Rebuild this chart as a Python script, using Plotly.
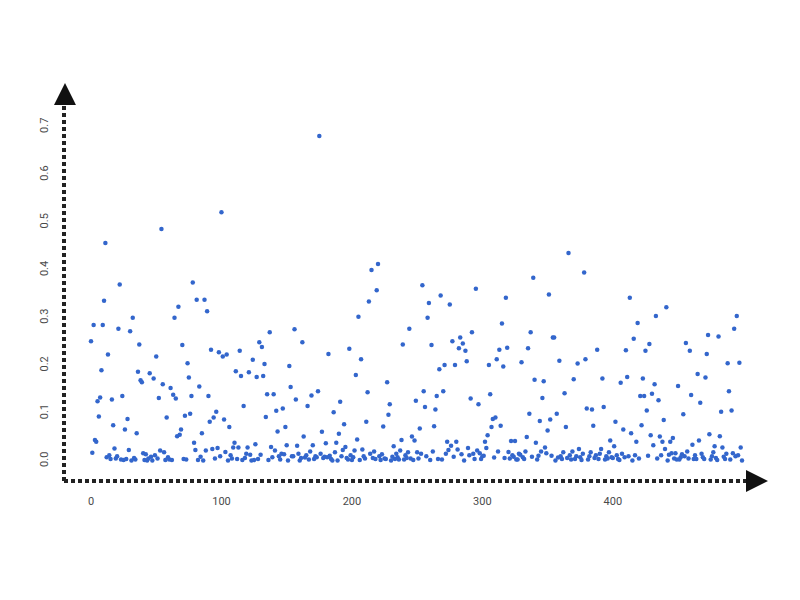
import plotly.graph_objects as go

# Values (index 0..499)
y_values = [
    0.251, 0.017, 0.285, 0.044, 0.040, 0.125, 0.093, 0.133, 0.190, 0.285,
    0.336, 0.457, 0.008, 0.223, 0.012, 0.004, 0.129, 0.075, 0.026, 0.005,
    0.010, 0.277, 0.370, 0.003, 0.136, 0.002, 0.066, 0.004, 0.088, 0.023,
    0.272, 0.001, 0.300, 0.006, 0.003, 0.058, 0.187, 0.244, 0.169, 0.165,
    0.016, 0.002, 0.014, 0.001, 0.005, 0.184, 0.009, 0.001, 0.173, 0.012,
    0.219, 0.005, 0.132, 0.022, 0.486, 0.161, 0.018, 0.002, 0.091, 0.008,
    0.003, 0.153, 0.002, 0.139, 0.300, 0.131, 0.052, 0.323, 0.055, 0.066,
    0.243, 0.004, 0.095, 0.003, 0.205, 0.175, 0.099, 0.136, 0.374, 0.038,
    0.023, 0.338, 0.002, 0.156, 0.009, 0.058, 0.001, 0.338, 0.022, 0.314,
    0.136, 0.082, 0.233, 0.025, 0.091, 0.005, 0.103, 0.027, 0.228, 0.010,
    0.521, 0.219, 0.087, 0.019, 0.223, 0.001, 0.071, 0.012, 0.005, 0.028,
    0.038, 0.188, 0.004, 0.028, 0.231, 0.178, 0.002, 0.115, 0.006, 0.015,
    0.028, 0.186, 0.013, 0.001, 0.212, 0.002, 0.035, 0.176, 0.004, 0.249,
    0.013, 0.239, 0.178, 0.203, 0.092, 0.140, 0.002, 0.270, 0.029, 0.008,
    0.140, 0.022, 0.105, 0.062, 0.010, 0.003, 0.015, 0.110, 0.014, 0.071,
    0.033, 0.001, 0.199, 0.155, 0.010, 0.010, 0.276, 0.129, 0.032, 0.015,
    0.001, 0.006, 0.249, 0.051, 0.007, 0.012, 0.115, 0.003, 0.020, 0.137,
    0.033, 0.004, 0.010, 0.008, 0.146, 0.681, 0.015, 0.061, 0.006, 0.009,
    0.037, 0.008, 0.224, 0.011, 0.004, 0.001, 0.102, 0.018, 0.038, 0.001,
    0.057, 0.124, 0.010, 0.023, 0.077, 0.029, 0.006, 0.003, 0.235, 0.012,
    0.002, 0.008, 0.022, 0.180, 0.045, 0.302, 0.002, 0.213, 0.024, 0.010,
    0.005, 0.082, 0.144, 0.334, 0.015, 0.400, 0.006, 0.020, 0.004, 0.358,
    0.413, 0.010, 0.002, 0.014, 0.072, 0.005, 0.004, 0.165, 0.097, 0.119,
    0.001, 0.009, 0.031, 0.004, 0.015, 0.008, 0.003, 0.022, 0.044, 0.244,
    0.003, 0.012, 0.006, 0.018, 0.277, 0.005, 0.051, 0.002, 0.043, 0.126,
    0.018, 0.005, 0.068, 0.015, 0.368, 0.146, 0.113, 0.010, 0.300, 0.331,
    0.002, 0.243, 0.020, 0.073, 0.108, 0.136, 0.004, 0.192, 0.347, 0.003,
    0.146, 0.201, 0.015, 0.040, 0.023, 0.328, 0.032, 0.251, 0.009, 0.201,
    0.040, 0.024, 0.236, 0.259, 0.014, 0.246, 0.001, 0.231, 0.209, 0.027,
    0.012, 0.131, 0.270, 0.015, 0.004, 0.361, 0.022, 0.119, 0.016, 0.004,
    0.010, 0.011, 0.040, 0.027, 0.054, 0.201, 0.140, 0.071, 0.088, 0.007,
    0.091, 0.213, 0.020, 0.233, 0.074, 0.288, 0.198, 0.006, 0.342, 0.237,
    0.019, 0.005, 0.042, 0.012, 0.009, 0.042, 0.003, 0.003, 0.015, 0.013,
    0.207, 0.008, 0.004, 0.020, 0.050, 0.236, 0.099, 0.270, 0.009, 0.384,
    0.170, 0.038, 0.003, 0.011, 0.084, 0.020, 0.132, 0.167, 0.028, 0.016,
    0.064, 0.349, 0.087, 0.011, 0.259, 0.259, 0.001, 0.099, 0.007, 0.210,
    0.010, 0.004, 0.018, 0.142, 0.071, 0.006, 0.436, 0.012, 0.003, 0.020,
    0.171, 0.004, 0.010, 0.204, 0.025, 0.008, 0.002, 0.015, 0.395, 0.213,
    0.110, 0.003, 0.010, 0.018, 0.108, 0.074, 0.006, 0.012, 0.233, 0.004,
    0.015, 0.025, 0.173, 0.113, 0.003, 0.010, 0.005, 0.018, 0.043, 0.008,
    0.006, 0.031, 0.082, 0.012, 0.004, 0.002, 0.164, 0.015, 0.066, 0.008,
    0.232, 0.176, 0.010, 0.342, 0.058, 0.001, 0.256, 0.012, 0.040, 0.289,
    0.005, 0.136, 0.075, 0.173, 0.136, 0.231, 0.106, 0.011, 0.245, 0.054,
    0.141, 0.033, 0.161, 0.304, 0.005, 0.127, 0.051, 0.012, 0.040, 0.086,
    0.025, 0.322, 0.001, 0.013, 0.040, 0.016, 0.048, 0.005, 0.016, 0.003,
    0.157, 0.003, 0.008, 0.014, 0.098, 0.010, 0.247, 0.020, 0.005, 0.231,
    0.138, 0.034, 0.004, 0.012, 0.004, 0.182, 0.043, 0.122, 0.015, 0.008,
    0.004, 0.175, 0.224, 0.264, 0.056, 0.003, 0.010, 0.018, 0.031, 0.006,
    0.002, 0.261, 0.052, 0.103, 0.028, 0.009, 0.004, 0.015, 0.205, 0.146,
    0.003, 0.106, 0.016, 0.277, 0.010, 0.304, 0.012, 0.206, 0.028, 0.001,
]
x_index = list(range(len(y_values)))

x_tickvals = [0, 100, 200, 300, 400]
y_tickvals = [0.0, 0.1, 0.2, 0.3, 0.4, 0.5, 0.6, 0.7]

fig = go.Figure()
fig.add_trace(go.Scatter(
    x=x_index, y=y_values, mode="markers",
    marker=dict(color="#3366CC", size=4.5, line=dict(width=0)),
    showlegend=False,
))

axis_font = dict(family="Roboto, sans-serif", size=11, color="#4a4a4a")
fig.update_layout(
    width=800, height=600,
    margin=dict(l=64, r=52, t=105, b=119),
    paper_bgcolor="white", plot_bgcolor="white",
    xaxis=dict(range=[-20.7, 503.6], showgrid=False, zeroline=False,
               showline=False, tickvals=x_tickvals, ticks="outside",
               ticklen=10, tickcolor="rgba(0,0,0,0)", tickfont=axis_font),
    yaxis=dict(range=[-0.042, 0.746], showgrid=False, zeroline=False,
               showline=False, tickvals=y_tickvals, tickformat=".1f",
               tickangle=-90, ticks="outside", ticklen=11,
               tickcolor="rgba(0,0,0,0)", tickfont=axis_font),
)

dots = dict(color="#222222", width=4, dash="4px,3px")
# dotted axis lines
fig.add_shape(type="line", xref="paper", yref="paper", x0=0, y0=0, x1=0, y1=1,
              line=dots, layer="above")
fig.add_shape(type="line", xref="paper", yref="paper", x0=0, y0=0, x1=1, y1=0,
              line=dots, layer="above")
# arrowheads
fig.add_shape(type="path", xref="paper", yref="paper",
              path="M -0.0146,1.0 L 0.0175,1.0 L 0.0015,1.0585 Z",
              fillcolor="#111111", line=dict(width=0), layer="above")
fig.add_shape(type="path", xref="paper", yref="paper",
              path="M 0.9971,0.0293 L 0.9971,-0.0293 L 1.0292,0.0 Z",
              fillcolor="#111111", line=dict(width=0), layer="above")

fig.write_html("out.html")
